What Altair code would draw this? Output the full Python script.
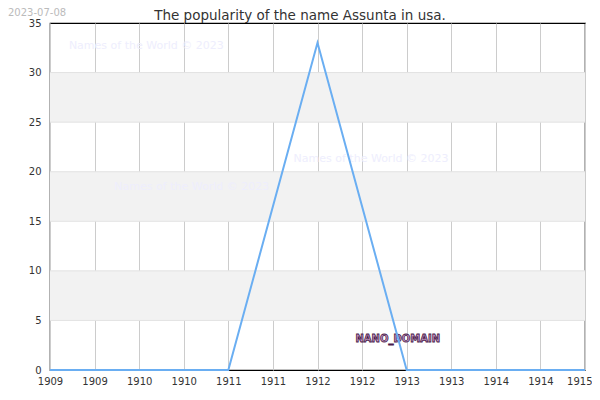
import altair as alt
import pandas as pd

years = [1909, 1910, 1911, 1912, 1913, 1914, 1915]
values = [0, 0, 0, 33, 0, 0, 0]
band_lo = [5, 15, 25]
band_hi = [10, 20, 30]
x_ticks = [1909, 1909.5, 1910, 1910.5, 1911, 1911.5, 1912, 1912.5, 1913, 1913.5, 1914, 1914.5, 1915]
y_ticks = [0, 5, 10, 15, 20, 25, 30, 35]
wm_text = "Names of the World © 2023"
wm_x = [1910.08, 1912.6, 1910.59]
wm_y = [32.7, 21.3, 18.45]
title_text = "The popularity of the name Assunta in usa."
date_text = "2023-07-08"

df = pd.DataFrame({"year": years, "value": values})
bands = pd.DataFrame({"lo": band_lo, "hi": band_hi})
wm = pd.DataFrame({"x": wm_x, "y": wm_y, "t": [wm_text] * 3})

xs = alt.Scale(domain=[1909, 1915], nice=False, zero=False)
ys = alt.Scale(domain=[0, 35], nice=False)

band_layer = alt.Chart(bands).mark_rect(color="#f2f2f2").encode(
    y=alt.Y("lo:Q", scale=ys),
    y2="hi:Q",
)

hgrid = alt.Chart(pd.DataFrame({"v": y_ticks[1:-1]})).mark_rule(color="#e2e2e2", strokeWidth=1).encode(
    y=alt.Y("v:Q", scale=ys)
)

wm_layer = alt.Chart(wm).mark_text(color="#eeeefd", font="DejaVu Sans", fontSize=11, align="center",
                                    baseline="middle").encode(
    x=alt.X("x:Q", scale=xs), y=alt.Y("y:Q", scale=ys), text="t:N"
)

base_axes = alt.Chart(df).mark_point(opacity=0).encode(
    x=alt.X("year:Q", scale=xs, title=None,
            axis=alt.Axis(values=x_ticks, labelExpr="floor(datum.value)", grid=True,
                          gridColor="#cccccc", domain=False, ticks=False,
                          labelColor="#333333", labelFont="DejaVu Sans", labelFontSize=10,
                          labelPadding=6, labelFlush=False,
                          labelAlign={"condition": {"test": "datum.value >= 1915", "value": "right"},
                                      "value": "center"},
                          labelOffset={"condition": {"test": "datum.value >= 1915", "value": 7},
                                       "value": 0})),
    y=alt.Y("value:Q", scale=ys, title=None,
            axis=alt.Axis(values=y_ticks, grid=False, domain=False, ticks=False,
                          labelColor="#333333", labelFont="DejaVu Sans", labelFontSize=10,
                          labelPadding=9)),
)

nano = alt.Chart(pd.DataFrame({"x": [1912.9], "y": [3.1], "t": ["NANO_DOMAIN"]})).mark_text(
    color="#c79bc7", stroke="#4a1a4a", strokeWidth=0.8, font="DejaVu Sans", fontSize=10,
    fontWeight="bold", align="center", baseline="middle"
).encode(x=alt.X("x:Q", scale=xs), y=alt.Y("y:Q", scale=ys), text="t:N")

line = alt.Chart(df).mark_line(color="#6aaef2", strokeWidth=2).encode(
    x=alt.X("year:Q", scale=xs), y=alt.Y("value:Q", scale=ys)
)

title = alt.Chart(pd.DataFrame({"t": [title_text]})).mark_text(
    color="#333333", font="DejaVu Sans", fontSize=13.5, align="center", baseline="middle"
).encode(x=alt.value(250), y=alt.value(-7), text="t:N")

date = alt.Chart(pd.DataFrame({"t": [date_text]})).mark_text(
    color="#bbbbbb", font="DejaVu Sans", fontSize=10, align="left", baseline="top"
).encode(x=alt.value(-42), y=alt.value(-15), text="t:N")

chart = alt.layer(band_layer, wm_layer, base_axes, hgrid, nano, line, title, date).properties(
    width=535, height=347,
    autosize=alt.AutoSizeParams(type="none"),
    padding={"left": 42, "top": 15, "right": 7, "bottom": 16},
).configure_view(stroke="#000000", strokeWidth=1.2)

chart.save("out.html", embed_options={"renderer": "svg", "actions": False})
